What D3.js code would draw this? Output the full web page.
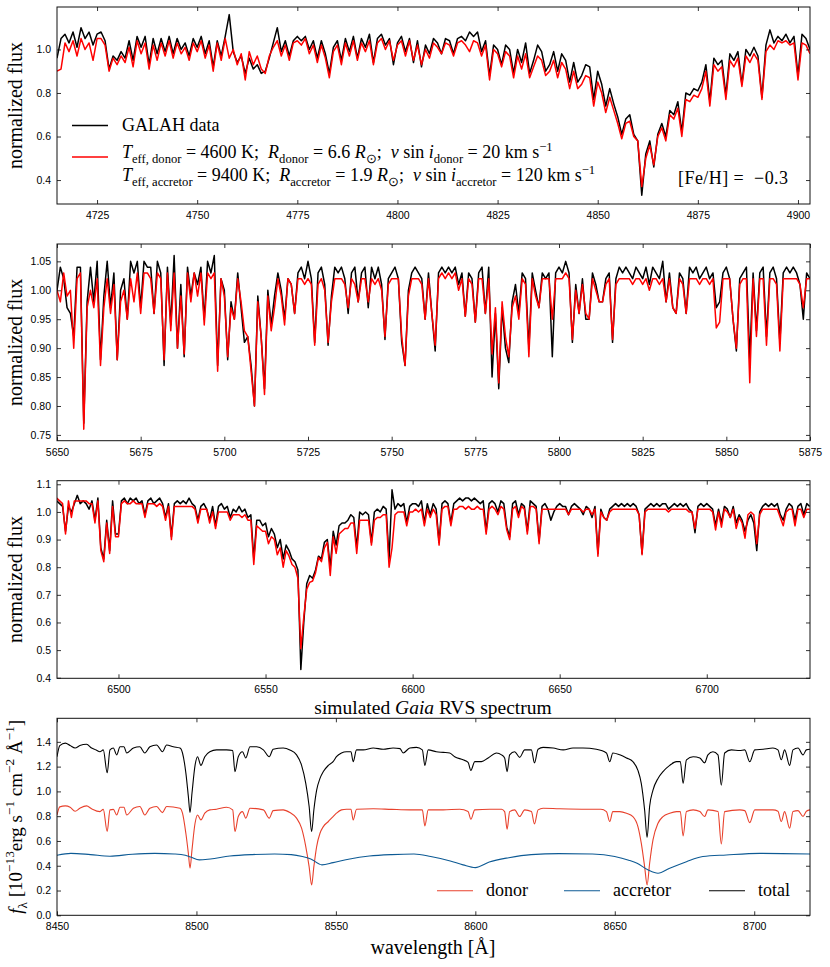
<!DOCTYPE html>
<html>
<head>
<meta charset="utf-8">
<script src="https://cdn.jsdelivr.net/npm/d3@7"></script>
<style>
body { margin: 0; background: #fff; }
.tick text { font-family: "Liberation Sans", Arial, sans-serif; font-size: 10.5px; fill: #000; }
.tick line { stroke: #000; stroke-width: 0.8; }
.serif { font-family: "Liberation Serif", "Times New Roman", serif; fill: #000; }
</style>
</head>
<body>
<svg id="fig" width="830" height="967"></svg>
<script>
// ---- data (1 A grid for the GALAH panels) ----
var p1Start = 4715;
var p1Galah = [
 0.96,1.05,1.07,1.03,1.08,1.01,1.10,1.05,1.08,1.02,
 1.07,1.08,1.04,0.91,0.97,0.95,0.99,0.96,1.04,0.95,
 1.06,1.01,1.06,0.93,1.05,0.98,1.05,0.99,1.06,0.98,
 1.05,1.00,1.03,0.97,1.05,1.01,1.06,0.98,1.04,0.92,
 1.04,0.97,1.06,1.16,0.99,0.94,0.97,0.89,0.96,0.91,
 0.93,0.89,0.90,0.96,1.03,1.10,0.99,1.04,0.97,1.04,
 1.06,1.04,1.06,1.00,1.04,0.96,1.04,0.98,0.89,1.01,
 1.04,0.95,1.05,0.99,1.06,0.96,1.05,1.01,1.07,0.94,
 1.05,1.07,1.02,1.05,0.93,1.03,1.06,0.99,1.05,0.94,
 1.04,0.92,1.02,0.98,1.05,1.03,0.98,1.05,1.04,0.98,
 1.05,1.06,1.04,1.08,1.06,1.08,0.99,1.04,0.88,1.02,
 1.00,0.93,1.02,1.00,0.89,1.00,0.94,1.03,0.89,0.95,
 1.02,0.99,0.90,0.93,0.99,0.90,0.98,0.95,0.85,0.94,
 0.85,0.88,0.93,0.92,0.77,0.90,0.84,0.74,0.82,0.75,
 0.69,0.61,0.68,0.70,0.61,0.58,0.33,0.52,0.58,0.46,
 0.61,0.66,0.60,0.72,0.70,0.76,0.62,0.80,0.79,0.82,
 0.81,0.85,0.93,0.76,0.96,0.93,0.95,0.79,0.98,0.95,
 0.99,0.84,1.00,0.97,1.01,0.97,0.78,1.02,1.09,1.03,
 1.06,1.04,1.07,1.03,1.06,0.88,1.07,1.05,1.00
];
var p1Model = [
 0.90,0.91,1.03,0.99,1.04,0.97,1.05,1.00,1.03,0.95,
 1.05,1.05,1.02,0.90,0.96,0.93,0.97,0.94,1.01,0.92,
 1.04,0.98,1.03,0.91,1.02,0.95,1.03,0.97,1.04,0.96,
 1.03,0.98,1.01,0.95,1.03,0.99,1.04,0.96,1.02,0.90,
 1.03,0.95,1.05,0.96,1.00,0.93,0.98,0.86,0.99,0.93,
 0.97,0.91,0.89,0.97,1.01,1.04,0.97,1.02,0.95,1.03,
 1.04,1.02,1.05,0.98,1.02,0.94,1.02,0.96,0.87,0.99,
 1.02,0.93,1.03,0.97,1.04,0.95,1.03,0.99,1.04,0.93,
 1.03,1.05,1.00,1.04,0.95,1.02,1.04,0.97,1.04,0.95,
 1.02,0.93,1.00,0.96,1.03,1.01,0.98,1.03,1.02,0.97,
 1.03,1.04,1.02,0.99,1.04,1.03,0.97,1.02,0.86,1.00,
 0.98,0.92,0.99,0.97,0.87,0.97,0.91,0.98,0.87,0.92,
 0.97,0.95,0.88,0.90,0.95,0.87,0.94,0.91,0.82,0.90,
 0.82,0.84,0.88,0.87,0.74,0.85,0.80,0.71,0.78,0.72,
 0.66,0.59,0.66,0.67,0.60,0.58,0.37,0.50,0.56,0.47,
 0.60,0.64,0.58,0.70,0.68,0.73,0.60,0.77,0.76,0.79,
 0.78,0.82,0.90,0.74,0.93,0.90,0.92,0.77,0.95,0.92,
 0.96,0.83,0.97,0.94,0.98,0.95,0.77,0.99,1.02,1.00,
 1.04,1.03,1.04,1.02,1.03,0.86,1.03,1.02,0.98
];

var p2Start = 5650;
var p2Galah = [
 1.00,1.04,1.02,0.97,0.96,0.92,1.04,1.04,0.77,0.98,
 1.04,0.98,1.05,0.88,0.99,1.05,0.97,1.03,0.88,1.00,
 1.02,0.95,1.05,1.03,1.05,0.97,1.05,1.04,1.04,0.96,
 1.05,1.03,0.87,1.04,0.94,1.06,0.90,1.01,0.885,1.04,
 0.99,1.03,1.01,1.04,0.95,1.05,1.03,1.06,0.87,1.02,
 1.00,0.88,0.98,0.95,1.03,0.97,0.91,0.92,0.87,0.80,
 0.99,0.92,0.83,1.00,0.94,0.99,1.03,1.00,0.95,1.02,
 1.01,0.96,1.03,1.04,1.02,1.05,1.02,0.91,1.03,1.04,
 1.01,0.905,0.99,1.04,1.03,1.04,1.02,0.96,1.03,1.04,
 0.98,1.03,1.04,0.97,1.04,1.02,1.04,1.01,0.915,1.02,
 1.03,1.04,1.02,0.91,0.87,1.00,1.03,1.04,1.03,1.02,
 0.95,1.03,0.96,0.895,1.03,1.04,1.03,1.04,1.03,1.04,
 1.01,1.03,0.955,1.03,1.02,0.945,1.03,1.04,0.96,1.04,
 0.85,0.96,0.83,0.97,0.90,0.875,0.98,1.01,0.96,1.03,
 1.02,0.90,1.03,1.00,0.97,1.03,1.02,1.03,0.885,1.03,
 1.04,1.03,1.05,1.03,0.91,1.01,0.96,1.02,0.95,0.95,
 1.03,1.01,0.98,0.98,1.02,1.03,0.91,1.02,1.04,1.03,
 1.04,1.03,1.02,1.04,1.03,1.02,1.04,1.01,1.04,1.03,
 1.02,1.05,0.98,1.03,0.97,0.96,1.03,1.02,0.96,1.04,
 1.03,1.04,1.02,1.03,1.04,1.02,1.03,0.97,0.98,1.03,
 1.04,1.02,0.95,0.895,1.02,1.03,1.04,0.88,1.03,0.93,
 1.03,1.04,0.92,1.03,1.04,1.02,0.91,1.03,1.04,1.03,
 1.04,1.03,1.01,0.95,1.03,1.02
];
var p2Model = [
 1.00,0.98,1.03,0.99,1.00,0.90,1.02,1.03,0.76,0.97,
 1.00,0.97,1.02,0.87,0.97,1.02,0.96,1.01,0.88,0.98,
 1.00,0.95,1.02,0.98,1.03,0.96,1.03,1.03,1.02,0.96,
 1.03,1.02,0.88,1.03,0.93,1.03,0.90,0.99,0.89,1.03,
 0.98,1.03,0.99,1.03,0.94,1.03,1.02,1.03,0.86,1.02,
 0.99,0.885,0.97,0.95,1.02,0.98,0.93,0.92,0.86,0.80,
 0.98,0.92,0.82,0.99,0.93,0.97,1.02,0.99,0.94,1.02,
 1.01,0.96,1.02,1.02,1.01,1.02,1.01,0.905,1.01,1.02,
 1.00,0.91,0.98,1.02,1.02,1.02,1.01,0.97,1.02,1.01,
 0.98,1.02,1.02,0.98,1.02,1.01,1.02,1.00,0.92,1.01,
 1.02,1.02,1.02,0.92,0.87,0.99,1.02,1.02,1.02,1.01,
 0.95,1.02,0.96,0.905,1.02,1.03,1.02,1.03,1.02,1.03,
 1.00,1.02,0.955,1.02,1.01,0.945,1.02,1.02,0.96,1.02,
 0.89,0.97,0.84,0.98,0.92,0.885,0.97,0.99,0.95,1.02,
 1.01,0.885,1.02,0.99,0.97,1.02,1.02,1.02,0.95,1.02,
 1.02,1.02,1.03,1.02,0.915,1.00,0.96,1.01,0.96,0.95,
 1.02,1.00,0.98,0.98,1.01,1.02,0.915,1.01,1.02,1.02,
 1.02,1.02,1.01,1.02,1.02,1.01,1.02,1.00,1.02,1.02,
 1.01,1.02,0.98,1.02,0.97,0.96,1.02,1.01,0.96,1.02,
 1.02,1.02,1.01,1.02,1.02,1.01,1.02,0.935,0.945,1.02,
 1.02,1.02,0.95,0.90,1.01,1.02,1.02,0.84,1.02,0.92,
 1.02,1.02,0.905,1.02,1.02,1.01,0.895,1.02,1.02,1.02,
 1.02,1.02,1.01,0.97,1.02,1.02
];

var p3Start = 6479;
var p3Galah = [
 1.04,1.03,1.02,0.93,1.02,1.00,1.03,1.06,1.03,1.04,
 1.03,1.01,1.04,0.97,1.05,0.87,0.83,0.97,0.86,1.04,
 0.92,0.92,1.04,1.05,1.03,1.05,1.04,1.05,1.03,1.04,
 0.99,1.04,1.05,1.03,1.04,1.05,1.03,0.98,1.03,0.91,
 1.03,1.04,1.03,1.04,1.03,1.05,1.03,1.02,0.97,1.02,
 1.03,1.01,0.97,1.02,0.95,1.02,1.03,1.01,1.02,0.98,
 1.01,1.00,1.02,1.00,1.01,0.98,0.99,0.83,0.97,0.97,
 0.95,0.96,0.91,0.94,0.92,0.87,0.90,0.83,0.88,0.86,
 0.83,0.82,0.79,0.43,0.60,0.74,0.77,0.76,0.79,0.84,
 0.83,0.89,0.90,0.80,0.93,0.88,0.95,0.96,0.96,0.97,
 0.99,0.98,0.87,1.00,0.99,1.00,0.99,0.89,1.00,1.01,
 1.00,1.02,1.01,0.83,1.08,1.01,1.03,1.02,1.03,0.96,
 1.02,1.03,1.03,1.02,1.04,0.96,1.03,0.99,1.03,1.01,
 0.89,1.03,1.04,1.03,0.96,1.03,1.04,1.05,1.04,1.05,
 1.05,1.04,1.05,1.04,1.03,1.04,0.93,1.03,1.04,1.03,
 1.00,1.04,1.03,0.945,0.91,1.03,1.04,0.99,1.03,1.02,
 0.93,1.04,1.03,1.02,0.895,1.02,1.03,1.01,0.97,1.00,
 1.02,1.03,1.02,1.02,0.99,1.02,1.03,1.02,1.01,0.99,
 1.02,1.01,0.98,1.02,0.85,1.01,0.98,0.97,1.01,1.02,
 1.03,1.02,1.03,1.02,1.03,1.02,1.03,1.02,0.99,0.85,
 1.01,1.02,1.03,1.02,1.03,1.02,1.03,1.03,1.01,1.02,
 1.03,1.02,1.03,1.02,1.03,1.01,1.00,0.925,1.02,1.03,
 1.02,1.03,1.02,1.01,0.95,1.01,0.96,1.02,1.01,0.98,
 1.02,0.96,0.99,0.97,0.93,0.97,0.99,0.96,0.86,1.00,
 1.02,1.03,1.02,1.03,1.02,1.03,0.99,0.97,1.01,1.03,
 1.02,0.97,1.02,1.03,0.99,1.03,1.02
];
var p3Model = [
 1.05,1.04,1.03,0.92,1.04,0.98,1.04,1.04,1.04,1.04,
 1.04,1.03,1.03,0.96,1.04,0.86,0.82,0.96,0.85,1.02,
 0.91,0.91,1.03,1.04,1.03,1.03,1.04,1.03,1.03,1.03,
 0.98,1.03,1.03,1.03,1.02,1.03,1.02,0.97,1.02,0.90,
 1.02,1.02,1.02,1.02,1.02,1.02,1.02,1.01,0.96,1.01,
 1.01,1.01,0.96,1.00,0.94,1.00,1.00,1.00,1.00,0.97,
 0.99,0.99,0.99,0.98,0.99,0.97,0.97,0.81,0.95,0.94,
 0.93,0.93,0.885,0.91,0.90,0.845,0.87,0.80,0.86,0.84,
 0.81,0.80,0.76,0.505,0.62,0.72,0.745,0.75,0.78,0.835,
 0.82,0.87,0.89,0.77,0.91,0.85,0.92,0.93,0.94,0.94,
 0.96,0.96,0.85,0.97,0.97,0.97,0.97,0.88,0.97,0.98,
 0.98,0.99,0.99,0.80,0.87,0.99,1.00,1.00,1.00,0.95,
 1.00,1.00,1.01,1.00,1.01,0.95,1.01,0.98,1.01,0.99,
 0.88,1.01,1.02,1.02,0.95,1.01,1.01,1.02,1.02,1.01,
 1.02,1.01,1.01,1.02,1.01,1.01,0.92,1.01,1.02,1.01,
 0.99,1.02,1.01,0.935,0.90,1.01,1.02,0.98,1.02,1.01,
 0.92,1.02,1.02,1.01,0.885,1.01,1.01,1.01,1.01,1.01,
 1.01,1.01,1.01,1.01,0.99,1.01,1.01,1.01,1.01,1.00,
 1.01,1.01,0.99,1.01,0.84,1.00,0.98,0.97,1.00,1.01,
 1.01,1.01,1.01,1.01,1.01,1.01,1.01,1.01,0.99,0.845,
 1.00,1.01,1.01,1.01,1.01,1.01,1.01,1.01,1.00,1.01,
 1.01,1.01,1.01,1.01,1.01,1.00,1.00,0.94,1.01,1.01,
 1.01,1.01,1.01,1.00,0.935,1.00,0.945,1.01,1.00,0.98,
 1.01,0.94,0.98,0.96,0.905,0.99,1.00,0.99,0.885,0.99,
 1.01,1.01,1.01,1.01,1.01,1.01,0.98,0.95,1.00,1.01,
 1.01,0.95,1.01,1.01,0.98,1.01,1.01
];

// simulated Gaia RVS spectrum: [wavelength, f_lambda / 1e-13]
var rvsDonor = [
 [8450,0.81],[8451,0.875],[8453,0.883],[8454.7,0.872],[8456.5,0.84],[8458.2,0.864],[8460.6,0.883],[8462.4,0.86],
 [8465.4,0.837],[8466.6,0.855],[8468,0.676],[8469,0.851],[8470.2,0.855],[8471.4,0.81],[8472.6,0.872],[8474,0.872],
 [8475,0.81],[8477.4,0.864],[8479.7,0.878],[8481.5,0.81],[8483.3,0.864],[8485.7,0.878],[8487.8,0.829],[8489.3,0.878],
 [8494.1,0.864],[8495,0.824],[8496.2,0.662],[8497.1,0.50],[8497.7,0.38],[8498.4,0.528],[8499.5,0.743],[8500.4,0.81],
 [8501.6,0.77],[8503,0.824],[8504.8,0.851],[8507.2,0.856],[8510.8,0.872],[8513,0.851],[8513.8,0.676],[8515,0.797],
 [8516.5,0.837],[8517.7,0.784],[8519.2,0.864],[8524,0.851],[8526.1,0.784],[8527.5,0.845],[8531.1,0.851],[8533.5,0.829],
 [8535.9,0.784],[8537.7,0.703],[8539.2,0.555],[8540.4,0.393],[8541.3,0.245],[8542.1,0.393],[8543.1,0.555],[8544.3,0.662],
 [8545.5,0.716],[8547.3,0.757],[8549,0.797],[8550.2,0.824],[8552,0.851],[8553.8,0.856],[8555.4,0.856],[8556.2,0.77],
 [8557.4,0.856],[8563.4,0.86],[8570,0.855],[8576.5,0.851],[8581,0.851],[8581.9,0.722],[8583.1,0.851],[8588.5,0.851],
 [8594.4,0.856],[8597.4,0.837],[8598.4,0.775],[8599.8,0.851],[8605.2,0.856],[8609.4,0.856],[8610.5,0.837],[8611.4,0.695],
 [8612.3,0.837],[8614.1,0.851],[8615.9,0.797],[8617.7,0.851],[8620.1,0.837],[8621.2,0.738],[8622.5,0.851],[8624.3,0.864],
 [8630,0.86],[8640,0.856],[8645,0.856],[8647,0.837],[8648.2,0.757],[8649.3,0.837],[8651.8,0.837],[8654.2,0.824],
 [8656.5,0.797],[8658.3,0.716],[8659.5,0.582],[8660.7,0.393],[8661.6,0.245],[8662.5,0.42],[8663.7,0.608],[8665.5,0.743],
 [8667.3,0.797],[8669.7,0.824],[8672.1,0.837],[8673.5,0.837],[8674.5,0.641],[8675.7,0.837],[8678.1,0.851],[8680.5,0.837],
 [8682.2,0.797],[8683.4,0.851],[8687,0.837],[8688.2,0.576],[8689.4,0.837],[8694.8,0.851],[8696.6,0.845],[8698.4,0.748],
 [8700.2,0.851],[8706.7,0.851],[8708.5,0.84],[8709.7,0.757],[8710.9,0.837],[8712.7,0.703],[8713.9,0.837],[8715.7,0.845],
 [8717.5,0.797],[8718.7,0.84],[8720,0.851]
];
var rvsAccretor = [
 [8450,0.485],[8455,0.50],[8462,0.49],[8469,0.477],[8477,0.493],[8485,0.50],[8492,0.495],[8496,0.485],[8498,0.47],
 [8501,0.447],[8505,0.455],[8512,0.478],[8520,0.49],[8528,0.495],[8534,0.49],[8538,0.475],[8541,0.455],[8545,0.407],
 [8549,0.425],[8555,0.455],[8562,0.478],[8570,0.49],[8578,0.495],[8584,0.475],[8591,0.439],[8595.6,0.407],[8600,0.385],
 [8605,0.43],[8612,0.465],[8620,0.49],[8630,0.498],[8642,0.495],[8650,0.475],[8655,0.445],[8658,0.42],[8662,0.365],
 [8665.5,0.339],[8669.7,0.38],[8675.7,0.433],[8681.6,0.474],[8690,0.487],[8702,0.50],[8720,0.495]
];
var rvsTotal = [
 [8450,1.28],[8451,1.37],[8453,1.39],[8454.7,1.37],[8456.5,1.35],[8458.2,1.37],[8460.6,1.38],[8462.4,1.35],[8464,1.335],
 [8465.4,1.32],[8466.6,1.335],[8468,1.15],[8469,1.335],[8470.2,1.35],[8471.4,1.295],[8472.6,1.36],[8474,1.36],[8475,1.31],
 [8477.4,1.35],[8479.7,1.36],[8481.5,1.31],[8483.3,1.36],[8485.7,1.375],[8487.8,1.32],[8489.3,1.375],[8491.7,1.36],
 [8494.1,1.35],[8495,1.31],[8496.2,1.15],[8497.1,0.96],[8497.7,0.83],[8498.4,0.985],[8499.5,1.21],[8500.4,1.28],
 [8501.6,1.21],[8503,1.28],[8504.8,1.32],[8507.2,1.335],[8510.8,1.335],[8513,1.33],[8513.8,1.16],[8515,1.28],
 [8516.5,1.32],[8517.7,1.27],[8519.2,1.36],[8521.6,1.36],[8524,1.335],[8526.1,1.28],[8527.5,1.34],[8531.1,1.35],
 [8533.5,1.335],[8535.9,1.295],[8537.7,1.21],[8539.2,1.065],[8540.4,0.88],[8541.3,0.675],[8542.1,0.85],[8543.1,1.01],
 [8544.3,1.105],[8545.5,1.16],[8547.3,1.21],[8549,1.24],[8550.2,1.28],[8552,1.31],[8553.8,1.32],[8555.4,1.32],
 [8556.2,1.24],[8557.4,1.335],[8559.8,1.335],[8563.4,1.35],[8567,1.34],[8570.5,1.35],[8573,1.345],[8574.1,1.31],
 [8576.5,1.35],[8578.9,1.355],[8581,1.335],[8581.9,1.21],[8583.1,1.335],[8586,1.32],[8588.5,1.315],[8590.8,1.31],
 [8592.6,1.28],[8595.6,1.255],[8597.4,1.235],[8598.4,1.17],[8599.8,1.24],[8602.2,1.24],[8604.6,1.27],[8607.6,1.31],
 [8609.4,1.295],[8610.5,1.27],[8611.4,1.16],[8612.3,1.295],[8614.1,1.32],[8615.9,1.275],[8617.7,1.335],[8620.1,1.335],
 [8621.2,1.23],[8622.5,1.34],[8624.3,1.355],[8627.9,1.35],[8631.5,1.335],[8635,1.35],[8638.6,1.35],[8643.4,1.34],
 [8647,1.31],[8648.2,1.24],[8649.3,1.31],[8651.8,1.295],[8654.2,1.27],[8656.5,1.24],[8658.3,1.17],[8659.5,1.065],
 [8660.7,0.85],[8661.6,0.63],[8662.5,0.88],[8663.7,1.01],[8665.5,1.105],[8667.3,1.16],[8669.7,1.21],[8672.1,1.24],
 [8673.5,1.24],[8674.5,1.065],[8675.7,1.255],[8678.1,1.28],[8680.5,1.27],[8682.2,1.23],[8683.4,1.295],[8685.2,1.32],
 [8687,1.295],[8688.2,1.05],[8689.4,1.31],[8691.8,1.335],[8694.8,1.33],[8696.6,1.335],[8698.4,1.24],[8700.2,1.335],
 [8703.2,1.34],[8706.7,1.35],[8708.5,1.335],[8709.7,1.255],[8710.9,1.335],[8712.7,1.21],[8713.9,1.335],[8715.7,1.35],
 [8717.5,1.295],[8718.7,1.335],[8720,1.34]
];

// tick labels
var p1XTicks = [4725, 4750, 4775, 4800, 4825, 4850, 4875, 4900];
var p1YTicks = [0.4, 0.6, 0.8, 1.0];
var p2XTicks = [5650, 5675, 5700, 5725, 5750, 5775, 5800, 5825, 5850, 5875];
var p2YTicks = [0.75, 0.80, 0.85, 0.90, 0.95, 1.00, 1.05];
var p3XTicks = [6500, 6550, 6600, 6650, 6700];
var p3YTicks = [0.4, 0.5, 0.6, 0.7, 0.8, 0.9, 1.0, 1.1];
var p4XTicks = [8450, 8500, 8550, 8600, 8650, 8700];
var p4YTicks = [0.0, 0.2, 0.4, 0.6, 0.8, 1.0, 1.2, 1.4];

// ---- drawing ----
var svg = d3.select("#fig");
var L = 57, R = 810;

function onGrid(start, arr) {
    return arr.map(function(f, i) { return [start + i, f]; });
}

function drawPanel(cfg) {
    var x = d3.scaleLinear().domain(cfg.xDom).range([L, R]);
    var y = d3.scaleLinear().domain(cfg.yDom).range([cfg.bot, cfg.top]);
    var g = svg.append("g");

    svg.append("clipPath").attr("id", "clip" + cfg.id)
        .append("rect")
        .attr("x", L).attr("y", cfg.top)
        .attr("width", R - L).attr("height", cfg.bot - cfg.top);

    var lines = g.append("g").attr("clip-path", "url(#clip" + cfg.id + ")");
    cfg.series.forEach(function(s) {
        var line = d3.line()
            .x(d => x(d[0]))
            .y(d => y(d[1]))
            .curve(s.curve || d3.curveLinear);
        lines.append("path")
            .datum(s.data)
            .attr("fill", "none")
            .attr("stroke", s.color)
            .attr("stroke-width", s.width)
            .attr("stroke-linejoin", "round")
            .attr("d", line);
    });

    // ticks inward on all four sides, like the matplotlib original
    g.append("g").attr("transform", `translate(0,${cfg.bot})`)
        .call(d3.axisBottom(x).tickValues(cfg.xTicks).tickFormat(d3.format("d")).tickSize(-4).tickPadding(7.5));
    g.append("g").attr("transform", `translate(0,${cfg.top})`)
        .call(d3.axisTop(x).tickValues(cfg.xTicks).tickFormat("").tickSize(-4));
    g.append("g").attr("transform", `translate(${L},0)`)
        .call(d3.axisLeft(y).tickValues(cfg.yTicks).tickFormat(d3.format(cfg.yFmt)).tickSize(-4).tickPadding(6));
    g.append("g").attr("transform", `translate(${R},0)`)
        .call(d3.axisRight(y).tickValues(cfg.yTicks).tickFormat("").tickSize(-4));
    g.selectAll(".domain").remove();

    g.append("rect")
        .attr("x", L).attr("y", cfg.top)
        .attr("width", R - L).attr("height", cfg.bot - cfg.top)
        .attr("fill", "none").attr("stroke", "#111").attr("stroke-width", 1);

    return { x: x, y: y, g: g };
}

// text with italic / sub / sup pieces (mathtext look-alike)
function mathText(sel, parts, size) {
    var cur = 0;
    parts.forEach(function(p) {
        var shift = p[1] === "sub" ? size * 0.25 : (p[1] === "sup" ? -size * 0.4 : 0);
        var ts = sel.append("tspan").text(p[0]).attr("dy", shift - cur);
        cur = shift;
        if (p[1] === "sub" || p[1] === "sup") ts.attr("font-size", size * 0.7);
        if (p[1] === "it") ts.attr("font-style", "italic");
    });
}

function yLabel(cy, parts, size) {
    var t = svg.append("text").attr("class", "serif")
        .attr("font-size", size)
        .attr("text-anchor", "middle")
        .attr("transform", `translate(22,${cy}) rotate(-90)`);
    mathText(t, parts, size);
}

var nb = "\u00a0";

// panel 1
drawPanel({
    id: 1, top: 7, bot: 204, xDom: [4715, 4903], yDom: [0.29, 1.195],
    xTicks: p1XTicks, yTicks: p1YTicks, yFmt: ".1f",
    series: [
        { data: onGrid(p1Start, p1Galah), color: "#000", width: 1.5 },
        { data: onGrid(p1Start, p1Model), color: "#ff0000", width: 1.5 }
    ]
});
yLabel(105.5, [["normalized flux", "rm"]], 20);

// legend of panel 1
var leg1 = svg.append("g");
leg1.append("line").attr("x1", 72).attr("x2", 108).attr("y1", 125.5).attr("y2", 125.5)
    .attr("stroke", "#000").attr("stroke-width", 1.5);
leg1.append("text").attr("class", "serif").attr("x", 122).attr("y", 131).attr("font-size", 18).text("GALAH data");
leg1.append("line").attr("x1", 72).attr("x2", 108).attr("y1", 157).attr("y2", 157)
    .attr("stroke", "#ff0000").attr("stroke-width", 1.5);
var l1 = leg1.append("text").attr("class", "serif").attr("x", 122).attr("y", 158).attr("font-size", 18);
mathText(l1, [["T", "it"], ["eff," + nb + "donor", "sub"], [nb + "=" + nb + "4600" + nb + "K;" + nb + nb, "rm"],
    ["R", "it"], ["donor", "sub"], [nb + "=" + nb + "6.6" + nb, "rm"], ["R", "it"], ["\u2299", "sub"],
    [";" + nb + nb, "rm"], ["v", "it"], [nb + "sin" + nb, "rm"], ["i", "it"], ["donor", "sub"],
    [nb + "=" + nb + "20" + nb + "km" + nb + "s", "rm"], ["\u22121", "sup"]], 18);
var l2 = leg1.append("text").attr("class", "serif").attr("x", 122).attr("y", 181).attr("font-size", 18);
mathText(l2, [["T", "it"], ["eff," + nb + "accretor", "sub"], [nb + "=" + nb + "9400" + nb + "K;" + nb + nb, "rm"],
    ["R", "it"], ["accretor", "sub"], [nb + "=" + nb + "1.9" + nb, "rm"], ["R", "it"], ["\u2299", "sub"],
    [";" + nb + nb, "rm"], ["v", "it"], [nb + "sin" + nb, "rm"], ["i", "it"], ["accretor", "sub"],
    [nb + "=" + nb + "120" + nb + "km" + nb + "s", "rm"], ["\u22121", "sup"]], 18);
svg.append("text").attr("class", "serif").attr("x", 678).attr("y", 184).attr("font-size", 18)
    .text("[Fe/H]" + nb + "=" + nb + nb + "\u2212" + "0.3")
    .attr("textLength", 110).attr("lengthAdjust", "spacing");

// panel 2
drawPanel({
    id: 2, top: 244, bot: 440.7, xDom: [5650, 5875], yDom: [0.74, 1.08],
    xTicks: p2XTicks, yTicks: p2YTicks, yFmt: ".2f",
    series: [
        { data: onGrid(p2Start, p2Galah), color: "#000", width: 1.5 },
        { data: onGrid(p2Start, p2Model), color: "#ff0000", width: 1.5 }
    ]
});
yLabel(342.3, [["normalized flux", "rm"]], 20);

// panel 3
drawPanel({
    id: 3, top: 480.7, bot: 678.3, xDom: [6479.1, 6735.1], yDom: [0.398, 1.113],
    xTicks: p3XTicks, yTicks: p3YTicks, yFmt: ".1f",
    series: [
        { data: onGrid(p3Start, p3Galah), color: "#000", width: 1.5 },
        { data: onGrid(p3Start, p3Model), color: "#ff0000", width: 1.5 }
    ]
});
yLabel(579.5, [["normalized flux", "rm"]], 20);

var title = svg.append("text").attr("class", "serif").attr("x", 433).attr("y", 713.5)
    .attr("font-size", 19.5).attr("text-anchor", "middle");
mathText(title, [["simulated" + nb, "rm"], ["Gaia", "it"], [nb + "RVS spectrum", "rm"]], 19.5);

// panel 4
var donorColor = "#e8412c", accretorColor = "#0d5a94";
drawPanel({
    id: 4, top: 718.3, bot: 915.3, xDom: [8450, 8720], yDom: [0, 1.59],
    xTicks: p4XTicks, yTicks: p4YTicks, yFmt: ".1f",
    series: [
        { data: rvsDonor, color: donorColor, width: 1.1, curve: d3.curveMonotoneX },
        { data: rvsAccretor, color: accretorColor, width: 1.1, curve: d3.curveMonotoneX },
        { data: rvsTotal, color: "#000", width: 1.1, curve: d3.curveMonotoneX }
    ]
});
yLabel(816.8, [["f", "it"], ["\u03bb", "sub"], [nb + "[10", "rm"], ["\u221213", "sup"], ["erg" + nb + "s", "rm"],
    ["\u22121", "sup"], [nb + "cm", "rm"], ["\u22122", "sup"], [nb + "\u00c5", "rm"], ["\u22121", "sup"], ["]", "rm"]], 19);

svg.append("text").attr("class", "serif").attr("x", 433).attr("y", 954)
    .attr("font-size", 20).attr("text-anchor", "middle").text("wavelength" + nb + "[\u00c5]");

// legend of panel 4
var leg4 = [
    { name: "donor", color: donorColor, x: 437 },
    { name: "accretor", color: accretorColor, x: 564 },
    { name: "total", color: "#000", x: 709 }
];
var lg = svg.append("g").selectAll("g").data(leg4).enter().append("g");
lg.append("line").attr("x1", d => d.x).attr("x2", d => d.x + 36).attr("y1", 890.7).attr("y2", 890.7)
    .attr("stroke", d => d.color).attr("stroke-width", 1.1);
lg.append("text").attr("class", "serif").attr("x", d => d.x + 49).attr("y", 896)
    .attr("font-size", 18).text(d => d.name);
</script>
</body>
</html>
